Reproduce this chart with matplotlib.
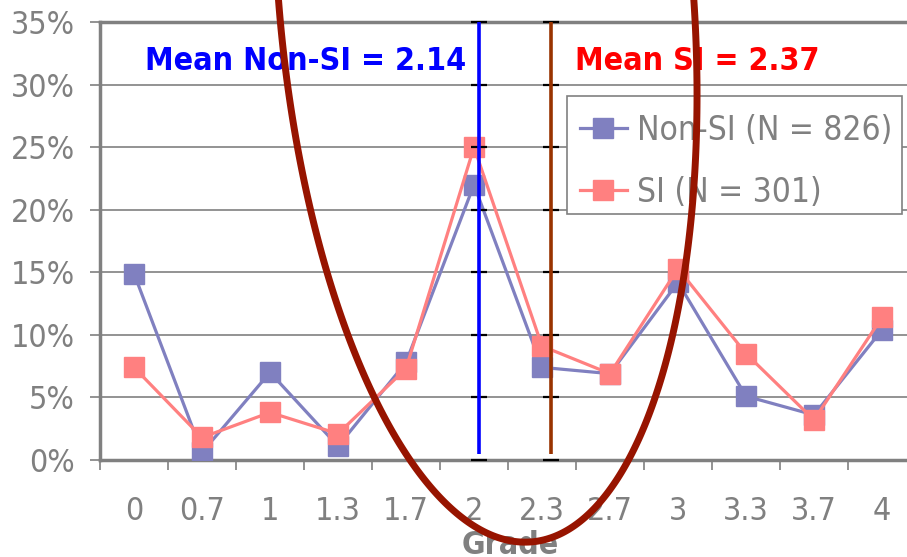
import matplotlib
matplotlib.use("Agg")
import matplotlib.pyplot as plt
from matplotlib.patches import Rectangle
import numpy as np

categories = ["0", "0.7", "1", "1.3", "1.7", "2", "2.3", "2.7", "3", "3.3", "3.7", "4"]
non_si = [14.9, 0.6, 7.0, 1.1, 7.8, 22.0, 7.4, 6.9, 14.2, 5.1, 3.6, 10.4]
si = [7.4, 1.8, 3.8, 2.1, 7.3, 25.0, 9.1, 6.9, 15.3, 8.5, 3.2, 11.4]
yticks = [0, 5, 10, 15, 20, 25, 30, 35]
mean_non_si_pos = 5.07
mean_si_pos = 6.13
labels = ["Non-SI (N = 826)", "SI (N = 301)"]

# hand-drawn annotation oval traced in pixel space (x, y from top-left)
oval_x = [278, 281, 288, 297, 310, 328, 348, 373, 410, 450, 527, 590, 630, 657, 670, 683, 692, 697, 697, 696, 693]
oval_y = [0, 21, 85, 147, 210, 273, 336, 398, 460, 503, 543, 513, 460, 398, 336, 273, 210, 147, 85, 21, 0]

W, H = 907, 557
fig = plt.figure(figsize=(W / 100, H / 100), dpi=100)
fig.patch.set_facecolor("white")
ax = fig.add_axes([100 / W, (H - 460) / H, 816 / W, 438 / H])

x = list(range(len(categories)))
gray = "#808080"
tfont = dict(family="DejaVu Sans", stretch="condensed")

ax.set_xlim(-0.5, len(categories) - 0.5)
ax.set_ylim(0, 35)
ax.set_yticks(yticks)
ax.set_yticklabels([f"{v}%" for v in yticks], fontdict=tfont)
ax.yaxis.grid(True, color=gray, lw=1.2)
ax.set_axisbelow(True)
ax.set_xticks([i - 0.5 for i in range(len(categories) + 1)])
ax.set_xticklabels([])
ax.set_xticks(x, minor=True)
ax.set_xticklabels(categories, minor=True, fontdict=tfont)
ax.tick_params(axis="x", which="minor", length=0, pad=26, labelsize=23, labelcolor=gray)
ax.tick_params(axis="x", which="major", length=7, width=1.2, color=gray, direction="out")
ax.tick_params(axis="y", length=7, width=1.2, color=gray, labelsize=23, labelcolor=gray, pad=11)
for s in ["left", "bottom", "top"]:
    ax.spines[s].set_color(gray)
    ax.spines[s].set_linewidth(2.5)
ax.spines["right"].set_visible(False)

l1, = ax.plot(x, non_si, color="#8080C0", lw=2.3, marker="s", ms=14, mec="#8080C0", zorder=3)
l2, = ax.plot(x, si, color="#FF8080", lw=2.3, marker="s", ms=14, mec="#FF8080", zorder=4)

ax.plot([mean_non_si_pos] * 2, [0.5, 35], color="#0000FF", lw=2.6, zorder=5, solid_capstyle="butt")
ax.plot([mean_si_pos] * 2, [0.5, 35], color="#993300", lw=2.6, zorder=5, solid_capstyle="butt")
for p in [mean_non_si_pos, mean_si_pos]:
    ax.plot([p] * len(yticks), yticks, ls="none", marker="_", ms=11, mew=1.6, color="black", zorder=4, clip_on=False)

ax.text(145 / W, (H - 62) / H, "Mean Non-SI = 2.14", transform=fig.transFigure, color="#0000FF",
        fontsize=23, fontweight="bold", va="center", ha="left", **tfont)
ax.text(575 / W, (H - 62) / H, "Mean SI = 2.37", transform=fig.transFigure, color="#FF0000",
        fontsize=23, fontweight="bold", va="center", ha="left", **tfont)

# legend box (white, gray border) and entries
box = Rectangle((567 / W, (H - 214) / H), 335 / W, 118 / H, transform=fig.transFigure,
                facecolor="white", edgecolor=gray, lw=1.2, zorder=5.5, clip_on=False)
ax.add_patch(box)
leg = ax.legend([l1, l2], labels, loc="upper left", bbox_to_anchor=(580 / W, (H - 114) / H),
                bbox_transform=fig.transFigure, prop=dict(size=24, **tfont), labelcolor=gray, frameon=False,
                handlelength=1.4, handletextpad=0.3, borderpad=0, labelspacing=0.86,
                markerscale=1.0, borderaxespad=0)
leg.set_zorder(6)

fig.text(510 / W, (H - 545) / H, "Grade", color=gray, fontsize=23, fontweight="bold",
         ha="center", va="center", **tfont)

# fit an ellipse (conic) through the traced oval and draw it in an overlay
ox = np.array(oval_x, float)
oy = np.array(oval_y, float)
mx, my, sc = ox.mean(), oy.mean(), 300.0
u, v = (ox - mx) / sc, (oy - my) / sc
M = np.column_stack([u * u, u * v, v * v, u, v, np.ones_like(u)])
coef = np.linalg.svd(M)[2][-1]
gx, gy = np.meshgrid(np.linspace(-200, W + 200, 900), np.linspace(-700, H + 100, 900))
gu, gv = (gx - mx) / sc, (gy - my) / sc
F = (coef[0] * gu * gu + coef[1] * gu * gv + coef[2] * gv * gv + coef[3] * gu + coef[4] * gv + coef[5])
ov = fig.add_axes([0, 0, 1, 1], zorder=10)
ov.set_xlim(0, W)
ov.set_ylim(H, 0)
ov.axis("off")
ov.patch.set_alpha(0)
ov.contour(gx, gy, F, levels=[0], colors=["#971400"], linewidths=5)

fig.savefig("out.png", dpi=100, facecolor="white")
